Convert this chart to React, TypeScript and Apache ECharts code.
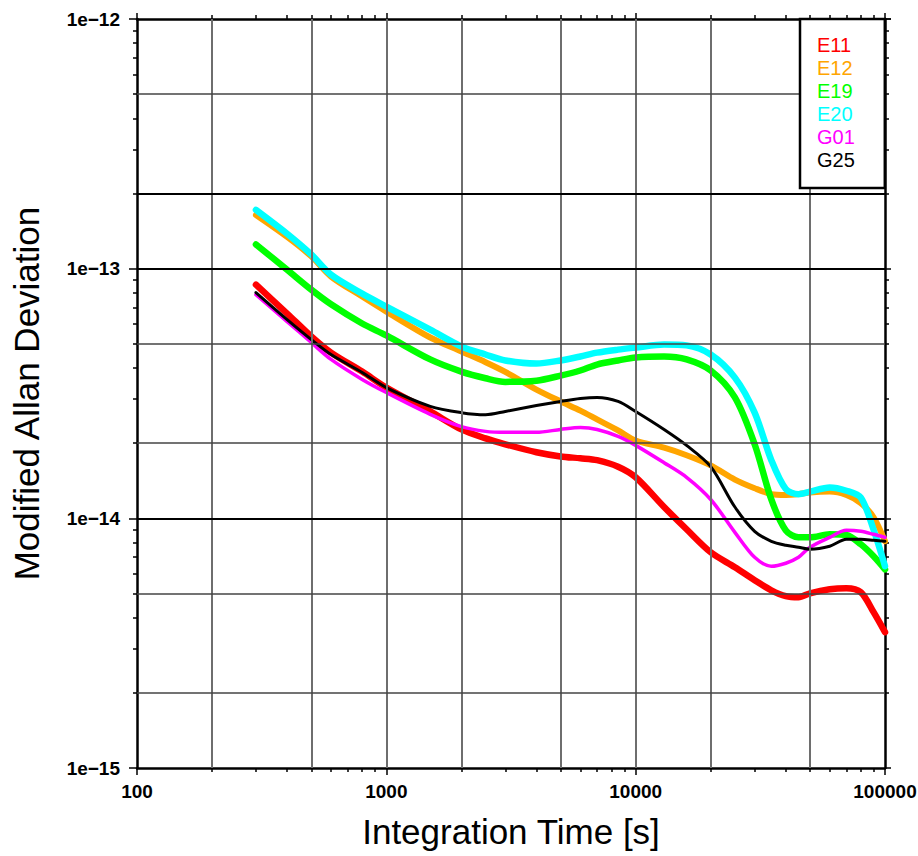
import React, { useEffect, useRef } from "react";
import * as echarts from "echarts";

// Integration time [s]
const tau = [300, 400, 500, 600, 800, 1000, 1500, 2000, 2500, 3000, 4000, 5000, 6000, 7000, 8500, 10000, 13000, 16000, 20000, 25000, 30000, 35000, 40000, 45000, 50000, 60000, 70000, 80000, 90000, 100000];

const E11 = [8.63e-14, 6.61e-14, 5.35e-14, 4.61e-14, 3.87e-14, 3.34e-14, 2.68e-14, 2.27e-14, 2.09e-14, 1.98e-14, 1.84e-14, 1.77e-14, 1.74e-14, 1.71e-14, 1.61e-14, 1.46e-14, 1.11e-14, 9.04e-15, 7.31e-15, 6.37e-15, 5.65e-15, 5.15e-15, 4.88e-15, 4.83e-15, 5.01e-15, 5.2e-15, 5.25e-15, 5.06e-15, 4.21e-15, 3.5e-15];
const E12 = [1.64e-13, 1.34e-13, 1.12e-13, 9.3e-14, 7.73e-14, 6.73e-14, 5.3e-14, 4.66e-14, 4.22e-14, 3.86e-14, 3.28e-14, 2.94e-14, 2.7e-14, 2.49e-14, 2.25e-14, 2.05e-14, 1.92e-14, 1.79e-14, 1.63e-14, 1.43e-14, 1.32e-14, 1.25e-14, 1.24e-14, 1.25e-14, 1.27e-14, 1.28e-14, 1.24e-14, 1.15e-14, 1.01e-14, 8.1e-15];
const E19 = [1.25e-13, 9.9e-14, 8.24e-14, 7.2e-14, 6.03e-14, 5.4e-14, 4.33e-14, 3.87e-14, 3.64e-14, 3.52e-14, 3.56e-14, 3.73e-14, 3.91e-14, 4.13e-14, 4.29e-14, 4.41e-14, 4.45e-14, 4.33e-14, 3.91e-14, 3.05e-14, 1.98e-14, 1.19e-14, 8.95e-15, 8.39e-15, 8.39e-15, 8.63e-15, 8.57e-15, 7.87e-15, 7.05e-15, 6.25e-15];
const E20 = [1.72e-13, 1.38e-13, 1.14e-13, 9.46e-14, 7.94e-14, 7.05e-14, 5.7e-14, 4.88e-14, 4.53e-14, 4.29e-14, 4.17e-14, 4.29e-14, 4.45e-14, 4.61e-14, 4.74e-14, 4.83e-14, 4.97e-14, 4.93e-14, 4.53e-14, 3.66e-14, 2.65e-14, 1.71e-14, 1.31e-14, 1.25e-14, 1.28e-14, 1.33e-14, 1.29e-14, 1.21e-14, 9.0e-15, 6.43e-15];
const G01 = [7.87e-14, 6.14e-14, 5.06e-14, 4.33e-14, 3.6e-14, 3.19e-14, 2.61e-14, 2.33e-14, 2.23e-14, 2.21e-14, 2.21e-14, 2.27e-14, 2.31e-14, 2.27e-14, 2.13e-14, 1.96e-14, 1.67e-14, 1.46e-14, 1.19e-14, 8.79e-15, 6.98e-15, 6.43e-15, 6.61e-15, 6.98e-15, 7.66e-15, 8.39e-15, 8.95e-15, 8.87e-15, 8.63e-15, 8.39e-15];
const G25 = [8.02e-14, 6.25e-14, 5.2e-14, 4.53e-14, 3.84e-14, 3.34e-14, 2.81e-14, 2.65e-14, 2.6e-14, 2.68e-14, 2.83e-14, 2.94e-14, 3.02e-14, 3.05e-14, 2.94e-14, 2.68e-14, 2.27e-14, 1.96e-14, 1.61e-14, 1.11e-14, 8.87e-15, 8.09e-15, 7.8e-15, 7.66e-15, 7.52e-15, 7.73e-15, 8.24e-15, 8.24e-15, 8.17e-15, 8.1e-15];

const seriesNames = ["E11", "E12", "E19", "E20", "G01", "G25"];
const seriesValues = [E11, E12, E19, E20, G01, G25];
const seriesColors = ["#ff0000", "#ffa500", "#00ff00", "#00ffff", "#ff00ff", "#000000"];
const seriesWidths = [6.5, 6, 6.5, 6.5, 3.5, 3];

const xTickValues = [100, 1000, 10000, 100000];
const xTickLabels = ["100", "1000", "10000", "100000"];
const yTickValues = [1e-15, 1e-14, 1e-13, 1e-12];
const yTickLabels = ["1e\u221215", "1e\u221214", "1e\u221213", "1e\u221212"];

const xMinorTicks = [200, 300, 400, 500, 600, 700, 800, 900, 2000, 3000, 4000, 5000, 6000, 7000, 8000, 9000, 20000, 30000, 40000, 50000, 60000, 70000, 80000, 90000];
const yMinorTicks = [2e-15, 3e-15, 4e-15, 5e-15, 6e-15, 7e-15, 8e-15, 9e-15, 2e-14, 3e-14, 4e-14, 5e-14, 6e-14, 7e-14, 8e-14, 9e-14, 2e-13, 3e-13, 4e-13, 5e-13, 6e-13, 7e-13, 8e-13, 9e-13];

const xGridValues = [200, 500, 1000, 2000, 5000, 10000, 20000, 50000];
const yGridValues = [5e-13, 2e-13, 1e-13, 5e-14, 2e-14, 1e-14, 5e-15, 2e-15];
const yGridStrong = [2e-13, 1e-13, 1e-14];

const X_MIN = 100, X_MAX = 100000, Y_MIN = 1e-15, Y_MAX = 1e-12;

const FONT = "'Liberation Sans', Arial, Helvetica, sans-serif";

function labelFor(v: number, vals: number[], labels: string[]) {
  for (let i = 0; i < vals.length; i++) {
    if (Math.abs(Math.log10(v) - Math.log10(vals[i])) < 0.01) return labels[i];
  }
  return "";
}

export default function App() {
  const ref = useRef<HTMLDivElement>(null);
  useEffect(() => {
    if (!ref.current) return;
    const chart = echarts.init(ref.current, undefined, { renderer: "svg" });

    const baseX = { type: "log" as const, logBase: 10, min: X_MIN, max: X_MAX, splitLine: { show: false } };
    const baseY = { type: "log" as const, logBase: 10, min: Y_MIN, max: Y_MAX, splitLine: { show: false } };
    const tickStyle = { color: "#000", width: 1.5 };
    const axisLineStyle = { color: "#000", width: 2.5 };

    const gridLines: any[] = [];
    xGridValues.forEach((v) =>
      gridLines.push([
        { coord: [v, Y_MIN], lineStyle: { color: "#6e6e6e", width: 2, type: "solid" } },
        { coord: [v, Y_MAX] },
      ])
    );
    yGridValues.forEach((v) => {
      const strong = yGridStrong.indexOf(v) >= 0;
      gridLines.push([
        {
          coord: [X_MIN, v],
          lineStyle: strong
            ? { color: "#000000", width: 2, type: "solid" }
            : { color: "#444444", width: 1.5, type: "solid" },
        },
        { coord: [X_MAX, v] },
      ]);
    });

    const minorAxis = (base: any, position: string, values: number[]) => ({
      ...base,
      position,
      axisLine: { show: false },
      axisLabel: { show: false },
      axisTick: { show: true, inside: false, length: 4, customValues: values, lineStyle: tickStyle },
    });

    const option: any = {
      animation: false,
      backgroundColor: "#ffffff",
      textStyle: { fontFamily: FONT },
      grid: { left: 137, right: 33, top: 19, bottom: 88, containLabel: false, outerBoundsMode: "none" },
      legend: {
        data: seriesNames.map((n, i) => ({ name: n, textStyle: { color: seriesColors[i] } })),
        orient: "vertical",
        left: 800,
        top: 19,
        padding: [16, 30, 18, 12],
        itemGap: 3,
        itemWidth: 0,
        itemHeight: 0,
        icon: "rect",
        itemStyle: { opacity: 0 },
        lineStyle: { opacity: 0 },
        backgroundColor: "#ffffff",
        borderColor: "#000000",
        borderWidth: 2.5,
        borderRadius: 0,
        selectedMode: false,
        textStyle: { fontFamily: FONT, fontSize: 20 },
        z: 10,
      },
      xAxis: [
        {
          ...baseX,
          position: "bottom",
          name: "Integration Time [s]",
          nameLocation: "middle",
          nameGap: 46,
          nameTextStyle: { fontFamily: FONT, fontSize: 35, color: "#000" },
          axisLine: { show: true, lineStyle: axisLineStyle },
          axisTick: { show: true, inside: false, length: 7, lineStyle: tickStyle },
          axisLabel: {
            show: true,
            margin: 14,
            fontFamily: FONT,
            fontSize: 19,
            fontWeight: "bold",
            color: "#000",
            formatter: (v: number) => labelFor(v, xTickValues, xTickLabels),
          },
        },
        {
          ...baseX,
          position: "top",
          axisLine: { show: true, lineStyle: axisLineStyle },
          axisTick: { show: true, inside: false, length: 6, lineStyle: tickStyle },
          axisLabel: { show: false },
        },
        minorAxis(baseX, "bottom", xMinorTicks),
        minorAxis(baseX, "top", xMinorTicks),
      ],
      yAxis: [
        {
          ...baseY,
          position: "left",
          name: "Modified Allan Deviation",
          nameLocation: "middle",
          nameGap: 93,
          nameTextStyle: { fontFamily: FONT, fontSize: 35, color: "#000" },
          axisLine: { show: true, lineStyle: axisLineStyle },
          axisTick: { show: true, inside: false, length: 8, lineStyle: tickStyle },
          axisLabel: {
            show: true,
            margin: 17,
            fontFamily: FONT,
            fontSize: 19,
            fontWeight: "bold",
            color: "#000",
            formatter: (v: number) => labelFor(v, yTickValues, yTickLabels),
          },
        },
        {
          ...baseY,
          position: "right",
          axisLine: { show: true, lineStyle: axisLineStyle },
          axisTick: { show: true, inside: false, length: 6, lineStyle: tickStyle },
          axisLabel: { show: false },
        },
        minorAxis(baseY, "left", yMinorTicks),
        minorAxis(baseY, "right", yMinorTicks),
      ],
      series: [
        {
          name: "__grid",
          type: "line",
          xAxisIndex: 0,
          yAxisIndex: 0,
          data: [],
          z: 1,
          silent: true,
          markLine: {
            silent: true,
            symbol: ["none", "none"],
            label: { show: false },
            animation: false,
            data: gridLines,
          },
        },
        ...seriesNames.map((n, i) => ({
          name: n,
          type: "line",
          xAxisIndex: 0,
          yAxisIndex: 0,
          data: tau.map((t, j) => [t, seriesValues[i][j]]),
          showSymbol: false,
          symbol: "none",
          smooth: 0.3,
          z: 3,
          color: seriesColors[i],
          lineStyle: { color: seriesColors[i], width: seriesWidths[i], cap: "round", join: "round" },
        })),
      ],
    };

    chart.setOption(option);
    return () => chart.dispose();
  }, []);

  return (
    <div
      ref={ref}
      style={{ position: "absolute", left: 0, top: 0, width: 918, height: 856, background: "#fff" }}
    />
  );
}
